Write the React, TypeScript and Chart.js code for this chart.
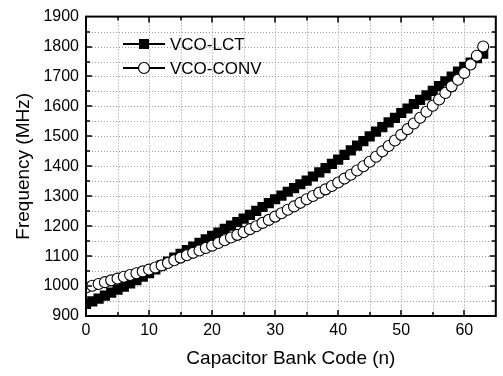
import React, { useEffect, useRef } from "react";
import { Chart, registerables } from "chart.js";

Chart.register(...registerables);

const CODES = [
  0, 1, 2, 3, 4, 5, 6, 7, 8, 9, 10, 11, 12, 13, 14, 15, 16, 17, 18, 19, 20, 21,
  22, 23, 24, 25, 26, 27, 28, 29, 30, 31, 32, 33, 34, 35, 36, 37, 38, 39, 40, 41,
  42, 43, 44, 45, 46, 47, 48, 49, 50, 51, 52, 53, 54, 55, 56, 57, 58, 59, 60, 61,
  62, 63,
];

const VCO_LCT = [
  940, 949, 958, 968, 978, 988, 998, 1009, 1020, 1031, 1043, 1056, 1069, 1082,
  1095, 1108, 1120, 1132, 1144, 1156, 1168, 1179, 1191, 1202, 1214, 1225, 1238,
  1251, 1264, 1277, 1290, 1302, 1315, 1327, 1340, 1352, 1366, 1380, 1394, 1408,
  1422, 1438, 1453, 1469, 1484, 1500, 1516, 1531, 1547, 1562, 1578, 1593, 1608,
  1622, 1637, 1652, 1668, 1684, 1700, 1716, 1732, 1746, 1761, 1776,
];

const VCO_CONV = [
  995, 1001, 1007, 1013, 1019, 1025, 1031, 1037, 1043, 1049, 1055, 1062, 1069,
  1077, 1086, 1095, 1103, 1111, 1119, 1127, 1135, 1144, 1153, 1162, 1171, 1180,
  1190, 1200, 1211, 1221, 1232, 1243, 1255, 1266, 1278, 1290, 1301, 1312, 1323,
  1334, 1346, 1359, 1372, 1386, 1400, 1415, 1432, 1450, 1468, 1486, 1505, 1524,
  1543, 1562, 1582, 1602, 1623, 1645, 1667, 1689, 1712, 1740, 1769, 1800,
];

const SERIES_NAMES = ["VCO-LCT", "VCO-CONV"];
const X_TITLE = "Capacitor Bank Code (n)";
const Y_TITLE = "Frequency (MHz)";
const X_MIN = 0;
const X_MAX = 65;
const Y_MIN = 900;
const Y_MAX = 1900;

const FONT = "'Liberation Sans', Arial, sans-serif";

const framePlugin = {
  id: "framePlugin",
  beforeDatasetsDraw(chart: any) {
    const { ctx, chartArea: a, scales } = chart;
    const xs = scales.x;
    const ys = scales.y;
    ctx.save();
    ctx.strokeStyle = "#9a9a9a";
    ctx.lineWidth = 1;
    ctx.setLineDash([1, 2]);
    for (let v = X_MIN + 5; v < X_MAX; v += 5) {
      const px = Math.round(xs.getPixelForValue(v)) + 0.5;
      ctx.beginPath();
      ctx.moveTo(px, a.top);
      ctx.lineTo(px, a.bottom);
      ctx.stroke();
    }
    for (let v = Y_MIN + 50; v < Y_MAX; v += 50) {
      const py = Math.round(ys.getPixelForValue(v)) + 0.5;
      ctx.beginPath();
      ctx.moveTo(a.left, py);
      ctx.lineTo(a.right, py);
      ctx.stroke();
    }
    ctx.restore();
  },
  afterDraw(chart: any) {
    const { ctx, chartArea: a, scales } = chart;
    const xs = scales.x;
    const ys = scales.y;
    ctx.save();
    ctx.strokeStyle = "#000";
    ctx.lineWidth = 1.5;
    ctx.setLineDash([]);
    for (let v = X_MIN + 5; v < X_MAX; v += 5) {
      const len = v % 10 === 0 ? 6 : 4;
      const px = Math.round(xs.getPixelForValue(v));
      ctx.beginPath();
      ctx.moveTo(px, a.bottom);
      ctx.lineTo(px, a.bottom - len);
      ctx.moveTo(px, a.top);
      ctx.lineTo(px, a.top + len);
      ctx.stroke();
    }
    for (let v = Y_MIN + 50; v < Y_MAX; v += 50) {
      const len = v % 100 === 0 ? 6 : 4;
      const py = Math.round(ys.getPixelForValue(v));
      ctx.beginPath();
      ctx.moveTo(a.left, py);
      ctx.lineTo(a.left + len, py);
      ctx.moveTo(a.right, py);
      ctx.lineTo(a.right - len, py);
      ctx.stroke();
    }
    ctx.lineWidth = 2;
    ctx.strokeRect(a.left, a.top, a.right - a.left, a.bottom - a.top);

    ctx.fillStyle = "#000";
    ctx.font = `19px ${FONT}`;
    ctx.textAlign = "center";
    ctx.textBaseline = "middle";
    ctx.fillText(X_TITLE, (a.left + a.right) / 2, 359);
    ctx.save();
    ctx.translate(24, (a.top + a.bottom) / 2);
    ctx.rotate(-Math.PI / 2);
    ctx.fillText(Y_TITLE, 0, 0);
    ctx.restore();

    const lx0 = 123;
    const lx1 = 165;
    const rows = [44, 68];
    ctx.font = `17px ${FONT}`;
    ctx.textAlign = "left";
    ctx.textBaseline = "middle";
    rows.forEach((ry, i) => {
      ctx.strokeStyle = "#000";
      ctx.lineWidth = 2;
      ctx.beginPath();
      ctx.moveTo(lx0, ry);
      ctx.lineTo(lx1, ry);
      ctx.stroke();
      const mx = (lx0 + lx1) / 2;
      if (i === 0) {
        ctx.fillStyle = "#000";
        ctx.fillRect(mx - 5, ry - 5, 10, 10);
      } else {
        ctx.fillStyle = "#fff";
        ctx.lineWidth = 1.2;
        ctx.beginPath();
        ctx.arc(mx, ry, 5.5, 0, Math.PI * 2);
        ctx.fill();
        ctx.stroke();
      }
      ctx.fillStyle = "#000";
      ctx.fillText(SERIES_NAMES[i], lx1 + 5, ry + 1);
    });
    ctx.restore();
  },
};

export default function App() {
  const ref = useRef<HTMLCanvasElement | null>(null);
  useEffect(() => {
    if (!ref.current) return;
    const chart = new Chart(ref.current, {
      type: "line",
      data: {
        datasets: [
          {
            label: SERIES_NAMES[0],
            data: VCO_LCT.map((y, i) => ({ x: CODES[i], y })),
            borderColor: "#000",
            backgroundColor: "#000",
            borderWidth: 1.5,
            pointStyle: "rect",
            pointRadius: 7.2,
            pointBorderWidth: 0,
            pointBackgroundColor: "#000",
            order: 2,
          },
          {
            label: SERIES_NAMES[1],
            data: VCO_CONV.map((y, i) => ({ x: CODES[i], y })),
            borderColor: "#000",
            backgroundColor: "#fff",
            borderWidth: 1.5,
            pointStyle: "circle",
            pointRadius: 5.5,
            pointBorderWidth: 1.1,
            pointBackgroundColor: "#fff",
            pointBorderColor: "#000",
            order: 1,
          },
        ],
      },
      options: {
        animation: false,
        responsive: false,
        maintainAspectRatio: false,
        devicePixelRatio: 1,
        layout: { padding: { left: 0, right: 5, top: 11, bottom: 0 } },
        plugins: {
          legend: { display: false },
          tooltip: { enabled: false },
          title: { display: false },
        },
        scales: {
          x: {
            type: "linear",
            min: X_MIN,
            max: X_MAX,
            grid: { display: false, drawTicks: false },
            border: { display: false },
            ticks: {
              stepSize: 5,
              autoSkip: false,
              maxRotation: 0,
              padding: 5,
              color: "#000",
              font: { family: FONT, size: 16 },
              callback: (v: any) => (Number(v) % 10 === 0 && Number(v) <= 60 ? String(v) : ""),
            },
            afterFit: (s: any) => {
              s.height = 60;
            },
          },
          y: {
            type: "linear",
            min: Y_MIN,
            max: Y_MAX,
            grid: { display: false, drawTicks: false },
            border: { display: false },
            ticks: {
              stepSize: 50,
              autoSkip: false,
              padding: 7,
              color: "#000",
              font: { family: FONT, size: 16 },
              callback: (v: any) => (Number(v) % 100 === 0 ? String(v) : ""),
            },
            afterFit: (s: any) => {
              s.width = 86;
            },
          },
        },
      },
      plugins: [framePlugin],
    });
    return () => chart.destroy();
  }, []);
  return (
    <div style={{ position: "fixed", left: 0, top: 0, width: 503, height: 376, background: "#fff" }}>
      <canvas ref={ref} width={503} height={376} style={{ display: "block" }} />
    </div>
  );
}
